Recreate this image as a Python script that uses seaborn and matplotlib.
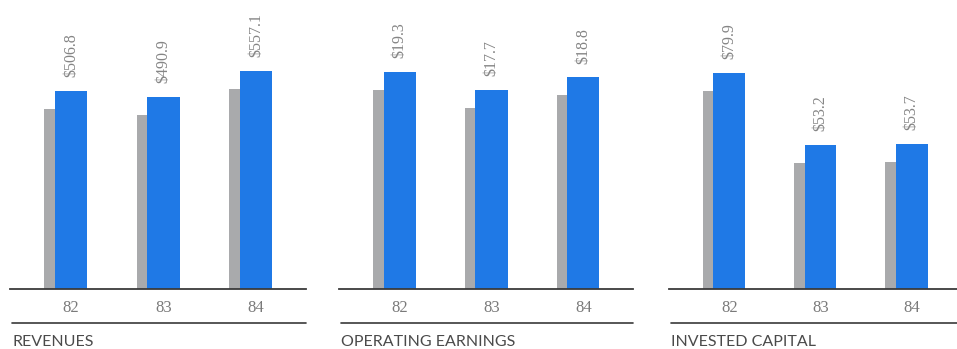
import matplotlib
matplotlib.use("Agg")
import matplotlib.pyplot as plt
import matplotlib.transforms as mtransforms
from matplotlib.lines import Line2D
import seaborn as sns
import pandas as pd

# Fiscal years and the three measures (millions of dollars)
years = ["82", "83", "84"]
revenues = [506.8, 490.9, 557.1]
operating_earnings = [19.3, 17.7, 18.8]
invested_capital = [79.9, 53.2, 53.7]
panel_titles = ["REVENUES", "OPERATING EARNINGS", "INVESTED CAPITAL"]
y_tops = [687, 23.9, 99.5]

BLUE = "#1f79e6"
SHADOW = "#a9aaac"
RULE = "#3a3a3a"
LABEL = "#858585"

sns.set_theme(style="white")
plt.rcParams["font.family"] = ["Liberation Serif", "DejaVu Serif"]

W, H = 957, 349
fig = plt.figure(figsize=(W / 100, H / 100), dpi=100)

panel_left = [10, 339, 669]
panel_width = [296, 294, 292]
axis_bottom = 60
axis_height = 269

series = [revenues, operating_earnings, invested_capital]

for i, values in enumerate(series):
    left = panel_left[i]
    width = panel_width[i]
    ax = fig.add_axes([left / W, axis_bottom / H, width / W, axis_height / H])
    df = pd.DataFrame({"year": years, "value": values})

    # shadow bars: same values, shifted left and down to suggest depth
    sns.barplot(data=df, x="year", y="value", color=SHADOW, width=0.35,
                saturation=1, ax=ax, zorder=1)
    n_shadow = len(ax.patches)
    shift = mtransforms.offset_copy(ax.transData, fig=fig, x=-10.5, y=-18, units="dots")
    for p in ax.patches[:n_shadow]:
        p.set_transform(shift)
        p.set_linewidth(0)

    sns.barplot(data=df, x="year", y="value", color=BLUE, width=0.35,
                saturation=1, ax=ax, zorder=2)
    for p in ax.patches[n_shadow:]:
        p.set_linewidth(0)

    for x, v in enumerate(values):
        ax.annotate(f"${v:.1f}", xy=(x, v), xytext=(0, 10), textcoords="offset points",
                    rotation=90, ha="center", va="bottom", fontsize=11.5,
                    color=LABEL, annotation_clip=False)

    ax.set_xlim(-0.66, 2.54)
    ax.set_ylim(0, y_tops[i])
    ax.set_xlabel("")
    ax.set_ylabel("")
    ax.set_yticks([])
    ax.tick_params(axis="x", length=0, pad=8, labelsize=12, labelcolor="#7a7a7a")
    for side in ["top", "left", "right"]:
        ax.spines[side].set_visible(False)
    ax.spines["bottom"].set_color(RULE)
    ax.spines["bottom"].set_linewidth(1.3)
    ax.patch.set_alpha(0)

    # lower rule and panel caption
    ry = (H - 323) / H
    fig.add_artist(Line2D([(left + 2) / W, (left + width) / W], [ry, ry],
                          transform=fig.transFigure, color=RULE, linewidth=1.2))
    fig.text((left + 2) / W, 2.5 / H, panel_titles[i], ha="left", va="baseline",
             fontsize=11.5, color="#4a4a4a", fontweight="normal",
             family=["Lato", "DejaVu Sans"])

fig.savefig("out.png", dpi=100)
